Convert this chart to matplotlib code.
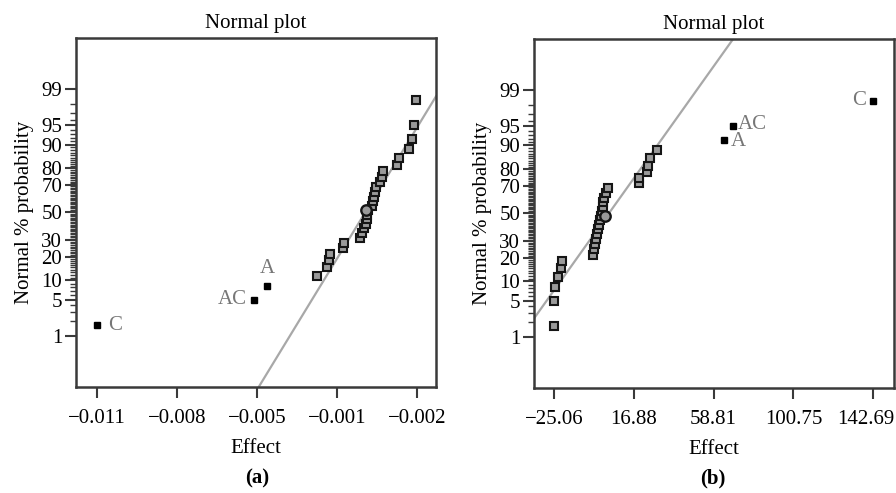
import numpy as np
import matplotlib
matplotlib.use("Agg")
import matplotlib.pyplot as plt
import matplotlib.transforms as mtransforms
from matplotlib.ticker import FixedLocator, FixedFormatter
from statistics import NormalDist
from math import erf, sqrt

plt.rcParams['font.family'] = ['Liberation Serif', 'DejaVu Serif']

# normal probability positions of the 30 effects, (i-0.5)/30 in %
n_eff = 30
prob = [(i - 0.5) / n_eff * 100 for i in range(1, n_eff + 1)]

# panel (a) effects, sorted ascending
effects_a = [-0.01100, -0.00511, -0.00463, -0.00275, -0.002375, -0.00230, -0.002263,
             -0.001775, -0.001738, -0.001138, -0.001063, -0.000988, -0.000913,
             -0.000875, -0.000875, -0.000838, -0.000688, -0.000650, -0.000613,
             -0.000575, -0.000538, -0.000388, -0.000313, -0.000275, 0.000250,
             0.000325, 0.000700, 0.000813, 0.000888, 0.000963]
signif_a = {0: "C", 1: "AC", 2: "A"}
circle_a = (-0.000913, 52.0)
line_a_x = [-0.004925, 0.00171]
line_a_p = [0.052, 98.57]
xticks_a = [-0.011, -0.008, -0.005, -0.002, 0.001]
xticklabels_a = ["\u22120.011", "\u22120.008", "\u22120.005", "\u22120.001", "\u22120.002"]
xlim_a = (-0.01179, 0.00171)

# panel (b) effects, sorted ascending
effects_b = [-25.06, -24.80, -24.54, -22.96, -21.39, -20.87, -4.61, -4.09, -3.57,
             -3.04, -2.52, -1.99, -1.47, -0.68, -0.41, 0.10, 0.47, 0.78, 1.31, 2.20,
             3.41, 19.76, 19.50, 23.70, 24.38, 25.64, 29.20, 64.43, 68.78, 142.54]
signif_b = {27: "A", 28: "AC", 29: "C"}
circle_b = (2.0, 48.0)
line_b_x = [-35.55, 69.3]
line_b_p = [2.39, 99.952]
xticks_b = [-25.06, 16.88, 58.81, 100.75, 142.69]
xticklabels_b = ["\u221225.06", "16.88", "58.81", "100.75", "142.69"]
xlim_b = (-35.55, 153.7)

yticks = [1, 5, 10, 20, 30, 50, 70, 80, 90, 95, 99]
yminor = [v for v in range(2, 99) if v not in yticks]

nd = NormalDist()


def fwd(p):
    p = np.clip(np.asarray(p, dtype=float), 1e-6, 100 - 1e-6) / 100.0
    return np.vectorize(nd.inv_cdf)(p)


def inv(z):
    z = np.asarray(z, dtype=float)
    return np.vectorize(lambda v: 50.0 * (1 + erf(v / sqrt(2))))(z)


fig = plt.figure(figsize=(8.96, 4.93), dpi=100)
ax_a = fig.add_axes([0.0848, 0.215, 0.4018, 0.708])
ax_b = fig.add_axes([0.596, 0.213, 0.402, 0.708])

spine_col = "#3a3a3a"
lab_col = "#777777"
fs = 15

panels = [
    (ax_a, effects_a, signif_a, circle_a, line_a_x, line_a_p, xticks_a, xticklabels_a, xlim_a),
    (ax_b, effects_b, signif_b, circle_b, line_b_x, line_b_p, xticks_b, xticklabels_b, xlim_b),
]

for ax, eff, sig, circ, lx, lp, xt, xtl, xl in panels:
    ax.set_yscale('function', functions=(fwd, inv))
    ax.set_ylim(0.05, 99.95)
    ax.set_xlim(*xl)

    ax.plot(lx, lp, color="#a8a8a8", lw=1.6, zorder=2, clip_on=True)

    for i, (x, p) in enumerate(zip(eff, prob)):
        if i in sig:
            ax.plot(x, p, marker="s", ms=5, mfc="black", mec="black", ls="none", zorder=4)
        else:
            ax.plot(x, p, marker="s", ms=5.5, mfc="#9a9a9a", mec="#151515", mew=1.5,
                    ls="none", zorder=3)
    ax.plot(circ[0], circ[1], marker="o", ms=7.5, mfc="#9a9a9a", mec="#151515", mew=1.7,
            ls="none", zorder=3)

    ax.yaxis.set_major_locator(FixedLocator(yticks))
    ax.yaxis.set_major_formatter(FixedFormatter([str(v) for v in yticks]))
    ax.yaxis.set_minor_locator(FixedLocator(yminor))
    ax.xaxis.set_major_locator(FixedLocator(xt))
    ax.xaxis.set_major_formatter(FixedFormatter(xtl))
    ax.xaxis.set_minor_locator(FixedLocator([]))

    ax.tick_params(axis="both", which="major", direction="out", length=8, width=1.5,
                   color=spine_col, labelsize=fs, pad=2)
    ax.tick_params(axis="y", which="minor", direction="out", length=4, width=1.0,
                   color=spine_col)
    ax.tick_params(axis="x", which="major", pad=8)
    for s in ax.spines.values():
        s.set_color(spine_col)
        s.set_linewidth(1.8)

    ax.set_title("Normal plot", fontsize=fs, pad=7)
    ax.set_xlabel("Effect", fontsize=fs, labelpad=8)
    ax.set_ylabel("Normal % probability", fontsize=fs, labelpad=5)

# last tick label of (b) sits slightly left of its tick, as in the original
fig.canvas.draw()
last = ax_b.get_xticklabels()[-1]
last.set_transform(last.get_transform() +
                   mtransforms.ScaledTranslation(-0.07, 0, fig.dpi_scale_trans))

# significant effect labels
x, p = effects_a[0], prob[0]
ax_a.annotate("C", (x, p), xytext=(8, 0), textcoords="offset points", ha="left",
              va="center", color=lab_col, fontsize=fs)
x, p = effects_a[1], prob[1]
ax_a.annotate("AC", (x, p), xytext=(-5, 0), textcoords="offset points", ha="right",
              va="center", color=lab_col, fontsize=fs)
x, p = effects_a[2], prob[2]
ax_a.annotate("A", (x, p), xytext=(0, 6), textcoords="offset points", ha="center",
              va="bottom", color=lab_col, fontsize=fs)

x, p = effects_b[27], prob[27]
ax_b.annotate("A", (x, p), xytext=(5, -1), textcoords="offset points", ha="left",
              va="center", color=lab_col, fontsize=fs)
x, p = effects_b[28], prob[28]
ax_b.annotate("AC", (x, p), xytext=(4, 1), textcoords="offset points", ha="left",
              va="center", color=lab_col, fontsize=fs)
x, p = effects_b[29], prob[29]
ax_b.annotate("C", (x, p), xytext=(-5, 0), textcoords="offset points", ha="right",
              va="center", color=lab_col, fontsize=fs)

fig.text(0.287, 0.03, "(a)", ha="center", va="center", fontsize=fs, fontweight="bold")
fig.text(0.796, 0.03, "(b)", ha="center", va="center", fontsize=fs, fontweight="bold")

fig.savefig("out.png", dpi=100)
